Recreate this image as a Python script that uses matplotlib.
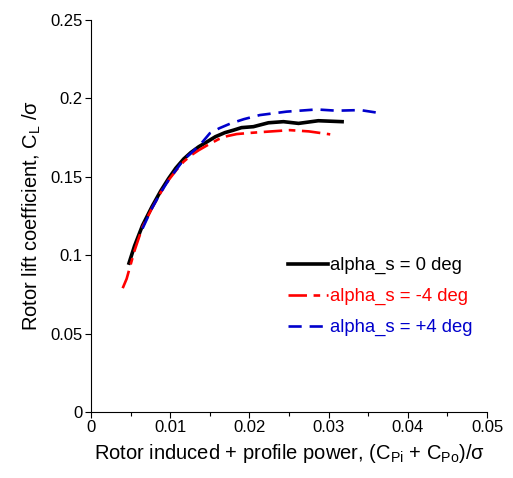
import matplotlib
matplotlib.use("Agg")
import matplotlib.pyplot as plt

plt.rcParams['font.family'] = ['Liberation Sans', 'DejaVu Sans']
plt.rcParams['mathtext.default'] = 'regular'

x_0 = [0.0048, 0.0055, 0.0065, 0.0077, 0.0088, 0.0098, 0.0107, 0.0117, 0.0126, 0.0136, 0.0147, 0.0157, 0.0169, 0.0180, 0.0190, 0.0205, 0.0224, 0.0243, 0.0262, 0.0287, 0.0317]
y_0 = [0.0950, 0.1060, 0.1190, 0.1310, 0.1410, 0.1490, 0.1555, 0.1614, 0.1655, 0.1692, 0.1725, 0.1756, 0.1782, 0.1798, 0.1814, 0.1820, 0.1845, 0.1852, 0.1841, 0.1858, 0.1852]

x_m4 = [0.0040, 0.0045, 0.0055, 0.0065, 0.0077, 0.0088, 0.0098, 0.0108, 0.0117, 0.0127, 0.0136, 0.0148, 0.0161, 0.0172, 0.0184, 0.0200, 0.0222, 0.0251, 0.0275, 0.0302]
y_m4 = [0.0790, 0.0850, 0.1030, 0.1180, 0.1300, 0.1400, 0.1480, 0.1545, 0.1597, 0.1640, 0.1670, 0.1705, 0.1740, 0.1760, 0.1773, 0.1780, 0.1788, 0.1798, 0.1790, 0.1771]

x_p4 = [0.0065, 0.0077, 0.0088, 0.0098, 0.0108, 0.0117, 0.0127, 0.0137, 0.0150, 0.0162, 0.0176, 0.0193, 0.0213, 0.0247, 0.0285, 0.0310, 0.0340, 0.0367]
y_p4 = [0.1170, 0.1300, 0.1400, 0.1480, 0.1548, 0.1610, 0.1655, 0.1700, 0.1778, 0.1810, 0.1840, 0.1868, 0.1894, 0.1916, 0.1930, 0.1922, 0.1926, 0.1905]

labels = ['alpha_s = 0 deg', 'alpha_s = -4 deg', 'alpha_s = +4 deg']

fig = plt.figure(figsize=(5.13, 4.78), dpi=100)
ax = fig.add_axes([0.1774, 0.138, 0.772, 0.820])

ax.plot(x_0, y_0, color='black', lw=2.6, label=labels[0], solid_joinstyle='round')
ax.plot(x_m4, y_m4, color='#ff0000', lw=1.9, dashes=(7, 2.5, 2.5, 2.5), label=labels[1])
ax.plot(x_p4, y_p4, color='#0000cc', lw=1.9, dashes=(5, 3), label=labels[2])

ax.set_xlim(0, 0.05)
ax.set_ylim(0, 0.25)
ax.set_xticks([0, 0.01, 0.02, 0.03, 0.04, 0.05])
ax.set_xticklabels(['0', '0.01', '0.02', '0.03', '0.04', '0.05'])
ax.set_xticks([0.005, 0.015, 0.025, 0.035, 0.045], minor=True)
ax.set_yticks([0, 0.05, 0.1, 0.15, 0.2, 0.25])
ax.set_yticklabels(['0', '0.05', '0.1', '0.15', '0.2', '0.25'])
ax.spines['top'].set_visible(False)
ax.spines['right'].set_visible(False)
ax.tick_params(axis='both', which='major', direction='out', length=4, width=0.8, labelsize=12, pad=2)
ax.tick_params(axis='x', which='minor', direction='out', length=3, width=0.8)

ax.set_xlabel(r'Rotor induced + profile power, (C$_{Pi}$ + C$_{Po}$)/σ', fontsize=14.5, labelpad=5)
ax.set_ylabel(r'Rotor lift coefficient, C$_{L}$ /σ', fontsize=14.5, labelpad=5)

leg = ax.legend(loc='center left', bbox_to_anchor=(0.497, 0.294), frameon=False,
                fontsize=13.3, handlelength=2.2, handletextpad=0.1, labelspacing=0.75,
                borderaxespad=0, borderpad=0)
for t, c in zip(leg.get_texts(), ['black', '#ff0000', '#0000cc']):
    t.set_color(c)

fig.savefig('out.png', dpi=100)
